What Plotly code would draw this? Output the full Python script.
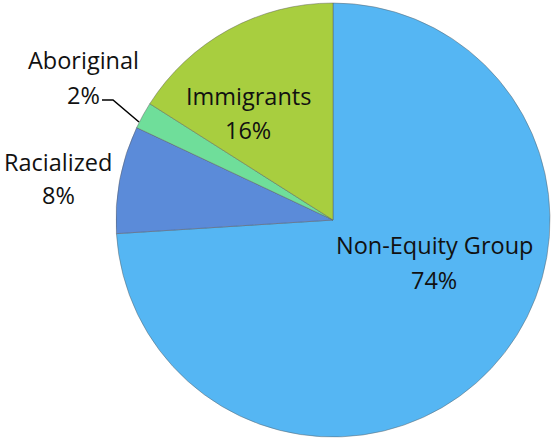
import plotly.graph_objects as go

labels = ["Non-Equity Group", "Racialized", "Aboriginal", "Immigrants"]
values = [74, 8, 2, 16]
colors = ["#55B6F3", "#5B8BD9", "#6FDE9A", "#A8CE3F"]

W, H = 552, 445
cx, cy, r = 333, 220, 217


def px(x):
    return x / W


def py(y):
    return 1 - y / H


fig = go.Figure(go.Pie(
    labels=labels, values=values, sort=False, direction="clockwise", rotation=0,
    marker=dict(colors=colors, line=dict(color="rgba(90,90,90,0.45)", width=1)),
    textinfo="none", hoverinfo="label+percent", showlegend=False,
    domain=dict(x=[(cx - r) / W, (cx + r) / W], y=[(H - cy - r) / H, (H - cy + r) / H]),
))

# label positions in page pixels: (x centre, name line y, percent line y)
label_pos = {
    "Non-Equity Group": (434, 245, 280),
    "Racialized": (58, 162, 195),
    "Aboriginal": (83, 60, 95),
    "Immigrants": (248, 96, 130),
}
total = sum(values)
font = dict(family="Open Sans, sans-serif", size=23.5, color="#111111")
anns = []
for lab, val in zip(labels, values):
    x, y1, y2 = label_pos[lab]
    anns.append(dict(x=px(x), y=py(y1), xref="paper", yref="paper", text=lab,
                     showarrow=False, font=font, xanchor="center", yanchor="middle"))
    anns.append(dict(x=px(x), y=py(y2), xref="paper", yref="paper",
                     text=f"{round(100 * val / total)}%",
                     showarrow=False, font=font, xanchor="center", yanchor="middle"))

fig.update_layout(
    width=W, height=H, margin=dict(l=0, r=0, t=0, b=0),
    paper_bgcolor="white", plot_bgcolor="white",
    annotations=anns,
    shapes=[dict(type="path", xref="paper", yref="paper",
                 path=f"M {px(102)},{py(100)} L {px(113)},{py(100)} L {px(139)},{py(122)}",
                 line=dict(color="black", width=1.5))],
)
fig.write_html("out.html", config={"displayModeBar": False},
               post_script="document.body.style.margin='0';")
